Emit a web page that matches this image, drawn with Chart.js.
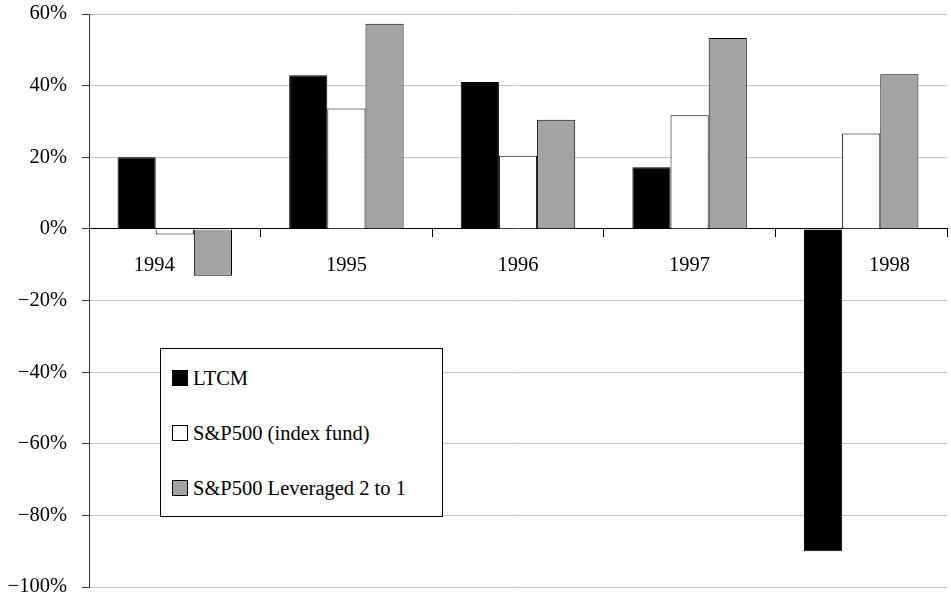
<!DOCTYPE html>
<html>
<head>
<meta charset="utf-8">
<script src="https://cdn.jsdelivr.net/npm/chart.js@4.4.0/dist/chart.umd.min.js"></script>
<style>
  html, body { margin: 0; padding: 0; background: #fff; }
  #wrap { position: relative; width: 951px; height: 596px; }
  #legend {
    position: absolute; left: 160px; top: 348px; width: 281px; height: 167px;
    border: 1px solid #000; background: #fff;
    font-family: "Liberation Serif", "Times New Roman", serif; font-size: 20.5px; color: #000;
  }
  .item { position: absolute; left: 11px; height: 20px; display: flex; align-items: center; white-space: nowrap; }
  .sw { width: 14px; height: 14px; border: 1px solid #000; margin-right: 5px; }
</style>
</head>
<body>
<div id="wrap">
  <canvas id="chart" width="951" height="596"></canvas>
  <div id="legend"></div>
</div>
<script>
// ---- data (annual returns, %) ----
const years = ["1994", "1995", "1996", "1997", "1998"];
const ltcm = [20.0, 42.9, 41.0, 17.2, -90.0];
const sp500 = [-1.6, 33.6, 20.4, 31.7, 26.6];
const sp500Lev = [-13.1, 57.3, 30.5, 53.3, 43.2];

const seriesNames = ["LTCM", "S&P500 (index fund)", "S&P500 Leveraged 2 to 1"];
const seriesColors = ["#000000", "#ffffff", "#a3a3a3"];

const FONT = { family: '"Liberation Serif", "Times New Roman", serif', size: 20.5 };

function pctLabel(v) {
  return (v < 0 ? "\u2212" + Math.abs(v) : v) + "%";
}

// the original nudges the first and last year label away from the bars
function yearLabel(v, i) {
  const s = this.getLabelForValue(v);
  if (i === 0) return s + " ".repeat(8);
  if (i === years.length - 1) return " ".repeat(11) + s;
  return s;
}

// keep the scales from adding their own label padding to the layout
function noPad(s) { s.paddingTop = 0; s.paddingBottom = 0; s.paddingLeft = 0; s.paddingRight = 0; }

const datasets = [ltcm, sp500, sp500Lev].map((d, i) => ({
  label: seriesNames[i],
  data: d,
  backgroundColor: seriesColors[i],
  borderColor: "#000",
  borderWidth: 1,
  categoryPercentage: 0.667,
  barPercentage: 1.0,
}));

new Chart(document.getElementById("chart"), {
  type: "bar",
  data: { labels: years, datasets },
  options: {
    responsive: false,
    animation: false,
    layout: { padding: { top: 14, right: 4, bottom: 9, left: 0 } },
    plugins: { legend: { display: false }, tooltip: { enabled: false } },
    scales: {
      x: {
        position: { y: 0 },
        afterFit: noPad,
        grid: { drawOnChartArea: false, drawTicks: true, tickLength: 8, tickColor: "#000", offset: true },
        border: { display: true, color: "#000", width: 1 },
        ticks: { font: FONT, color: "#000", padding: 16, maxRotation: 0, callback: yearLabel },
      },
      y: {
        min: -100, max: 60,
        afterFit(s) { s.width = 89; noPad(s); },
        grid: { color: "#c4c4c4", lineWidth: 1, tickColor: "#333", tickLength: 7 },
        border: { display: true, color: "#333", width: 1 },
        ticks: { stepSize: 20, font: FONT, color: "#000", padding: 15, callback: pctLabel },
      },
    },
  },
});

// legend box drawn as an overlay, built from the same series arrays
const legendTops = [19, 74, 129];
document.getElementById("legend").innerHTML = seriesNames.map((n, i) =>
  `<div class="item" style="top:${legendTops[i]}px"><span class="sw" style="background:${seriesColors[i]}"></span>${n.replace("&", "&amp;")}</div>`
).join("");
</script>
</body>
</html>
